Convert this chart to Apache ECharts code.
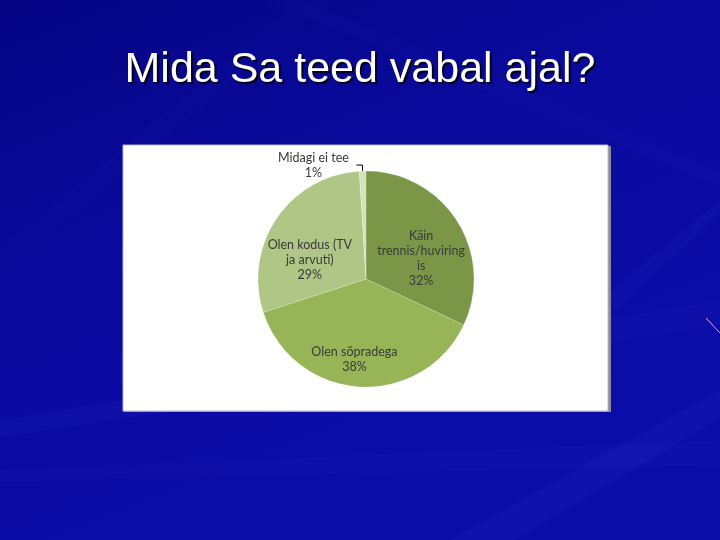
<!DOCTYPE html>
<html>
<head>
<meta charset="utf-8">
<script src="https://cdn.jsdelivr.net/npm/echarts@6/dist/echarts.min.js"></script>
<style>
html,body{margin:0;padding:0;background:#0a0a98;}
#main{width:720px;height:540px;}
</style>
</head>
<body>
<div id="main"></div>
<script>
// Data
const categories = ['Käin\ntrennis/huviring\nis', 'Olen sõpradega', 'Olen kodus (TV\nja arvuti)', 'Midagi ei tee'];
const values = [32, 38, 29, 1];
const sliceColors = ['#7a9646', '#97b556', '#afc686', '#d5e2bd'];
const labelOffsets = [[7, 10], [-8, 24], [-9, 13], [0, 0]];
const titleText = 'Mida Sa teed vabal ajal?';

const chart = echarts.init(document.getElementById('main'), null, {renderer: 'canvas'});

const labelFont = {fontFamily: 'Lato', fontSize: 12.5, color: '#3a3a3a', lineHeight: 15};

const data = categories.map((c, i) => {
  const item = {
    name: c,
    value: values[i],
    itemStyle: {color: sliceColors[i]},
    label: {offset: labelOffsets[i]}
  };
  if (i === 3) {
    item.label = {
      show: true,
      position: 'outside',
      formatter: p => '{a|Midagi ei tee}\n{a|' + p.value + '%}',
      rich: {a: Object.assign({width: 76, align: 'center'}, labelFont)}
    };
    item.labelLine = {show: true, length: 6, length2: 6, lineStyle: {color: '#000', width: 1}};
  }
  return item;
});

const streak = (pts, op) => ({
  type: 'polygon', silent: true, z: -10,
  shape: {points: pts},
  style: {fill: 'rgba(120,130,255,' + op + ')'}
});

const option = {
  backgroundColor: {
    type: 'linear', x: 0, y: 0, x2: 0.3, y2: 1,
    colorStops: [
      {offset: 0, color: '#050585'},
      {offset: 0.5, color: '#0a0a9e'},
      {offset: 1, color: '#0c0ca8'}
    ]
  },
  animation: false,
  title: {
    text: titleText,
    left: 'center',
    top: 44,
    textStyle: {
      fontFamily: 'Liberation Sans, Arial, sans-serif',
      fontSize: 43,
      fontWeight: 'normal',
      color: '#ffffff',
      textShadowColor: 'rgba(0,0,0,0.85)',
      textShadowOffsetX: 2,
      textShadowOffsetY: 2,
      textShadowBlur: 1
    }
  },
  graphic: [
    streak([[0,420],[720,300],[720,325],[0,438]], 0.035),
    streak([[0,470],[720,440],[720,465],[0,482]], 0.03),
    streak([[450,540],[720,390],[720,418],[515,540]], 0.05),
    streak([[600,300],[720,200],[720,213],[618,308]], 0.035),
    streak([[300,0],[720,170],[720,188],[265,0]], 0.025),
    streak([[0,250],[300,0],[328,0],[0,278]], 0.02),
    {type: 'line', silent: true, z: -10, shape: {x1: 706, y1: 318, x2: 720, y2: 333}, style: {stroke: '#d8a8f0', lineWidth: 1}},
    {type: 'rect', silent: true, z: -2, shape: {x: 124, y: 146, width: 487, height: 266}, style: {fill: '#8a8a9a'}},
    {type: 'rect', silent: true, z: -1, shape: {x: 123, y: 145, width: 485, height: 266}, style: {fill: '#ffffff', stroke: '#b8b8c8', lineWidth: 1}}
  ],
  series: [{
    type: 'pie',
    center: [366, 279],
    radius: 108,
    startAngle: 90,
    clockwise: true,
    avoidLabelOverlap: false,
    itemStyle: {borderColor: 'rgba(255,255,255,0.35)', borderWidth: 0.5},
    label: Object.assign({
      show: true,
      position: 'inside',
      formatter: p => p.name + '\n' + p.value + '%',
      align: 'center'
    }, labelFont),
    labelLine: {show: false},
    emphasis: {disabled: true},
    data: data
  }]
};
chart.setOption(option);
</script>
</body>
</html>
